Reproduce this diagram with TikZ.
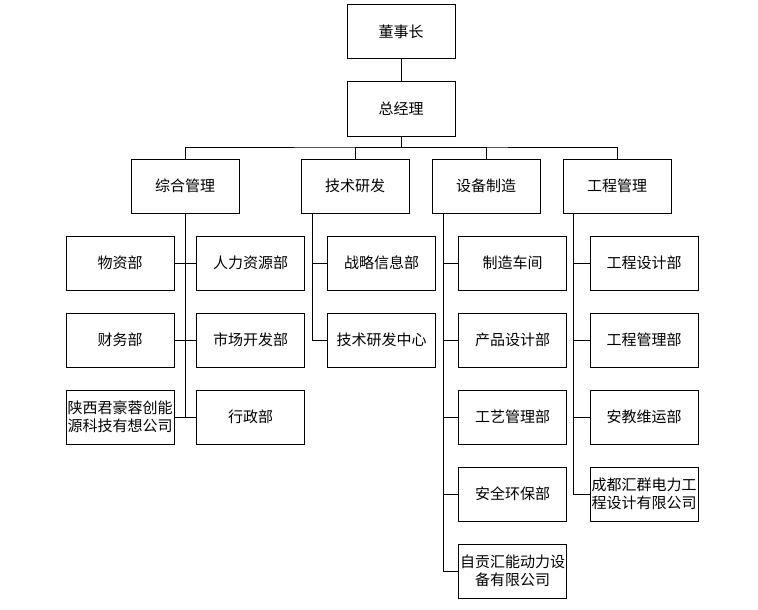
\documentclass[tikz,border=0pt]{standalone}
\usepackage{fontspec}
\setmainfont{Noto Sans CJK SC}
\usepackage{tikz}
\usetikzlibrary{positioning}
\tikzset{
  unit/.style={draw,line width=1pt,minimum width=108pt,minimum height=54pt,inner sep=0pt,align=center,font=\fontsize{15pt}{18.5pt}\selectfont},
  link/.style={line width=1pt}
}

\begin{document}
\begin{tikzpicture}[x=1pt,y=-1pt]
  \useasboundingbox[fill=white] (0,0) rectangle (758,610);
  % top levels
  \node[unit] (dsz) at (401,32) {董事长};
  \node[unit] (zjl) at (401,109) {总经理};
  \node[unit] (zhgl) at (185,186) {综合管理};
  \node[unit] (jsyf) at (355,186) {技术研发};
  \node[unit] (sbzz) at (486,186) {设备制造};
  \node[unit] (gcgl) at (617,186) {工程管理};
  \draw[link] (dsz) -- (zjl);
  \coordinate (bus) at (401,147);
  \draw[link] (zjl) -- (bus);
  \draw[link] (zhgl) |- (bus) -| (gcgl);
  \foreach \dep in {jsyf,sbzz}{\draw[link] (\dep) |- (bus);}
  % 综合管理
  \node[unit] (wzb) at (120,263) {物资部};
  \node[unit] (cwb) at (120,340) {财务部};
  \node[unit] (sxjh) at (120,417) {陕西君豪蓉创能\\源科技有想公司};
  \node[unit] (rlzy) at (250.5,263) {人力资源部};
  \node[unit] (sckf) at (250.5,340) {市场开发部};
  \node[unit] (xzb) at (250.5,417) {行政部};
  \draw[link] (zhgl) -- (zhgl.south |- xzb.west);
  \foreach \l/\r in {wzb/rlzy,cwb/sckf,sxjh/xzb}{\draw[link] (\l) -- (\r);}
  % 技术研发
  \node[unit] (zlxx) at (381.5,263) {战略信息部};
  \node[unit] (jszx) at (381.5,340) {技术研发中心};
  \coordinate (jst) at (312,213);
  \draw[link] (jst) |- (jszx);
  \draw[link] (jst |- zlxx.west) -- (zlxx);
  % 设备制造
  \node[unit] (zzcj) at (512.5,263) {制造车间};
  \node[unit] (cpsj) at (512.5,340) {产品设计部};
  \node[unit] (gygl) at (512.5,417) {工艺管理部};
  \node[unit] (aqhb) at (512.5,494) {安全环保部};
  \node[unit] (zghn) at (512.5,571) {自贡汇能动力设\\备有限公司};
  \coordinate (sbt) at (443,213);
  \draw[link] (sbt) |- (zghn);
  \foreach \sub in {zzcj,cpsj,gygl,aqhb}{\draw[link] (sbt |- \sub.west) -- (\sub);}
  % 工程管理
  \node[unit] (gcsj) at (644,263) {工程设计部};
  \node[unit] (gcglb) at (644,340) {工程管理部};
  \node[unit] (ajwy) at (644,417) {安教维运部};
  \node[unit] (cdhq) at (644,494) {成都汇群电力工\\程设计有限公司};
  \coordinate (gct) at (573,213);
  \draw[link] (gct) |- (cdhq);
  \foreach \sub in {gcsj,gcglb,ajwy}{\draw[link] (gct |- \sub.west) -- (\sub);}
\end{tikzpicture}
\end{document}
